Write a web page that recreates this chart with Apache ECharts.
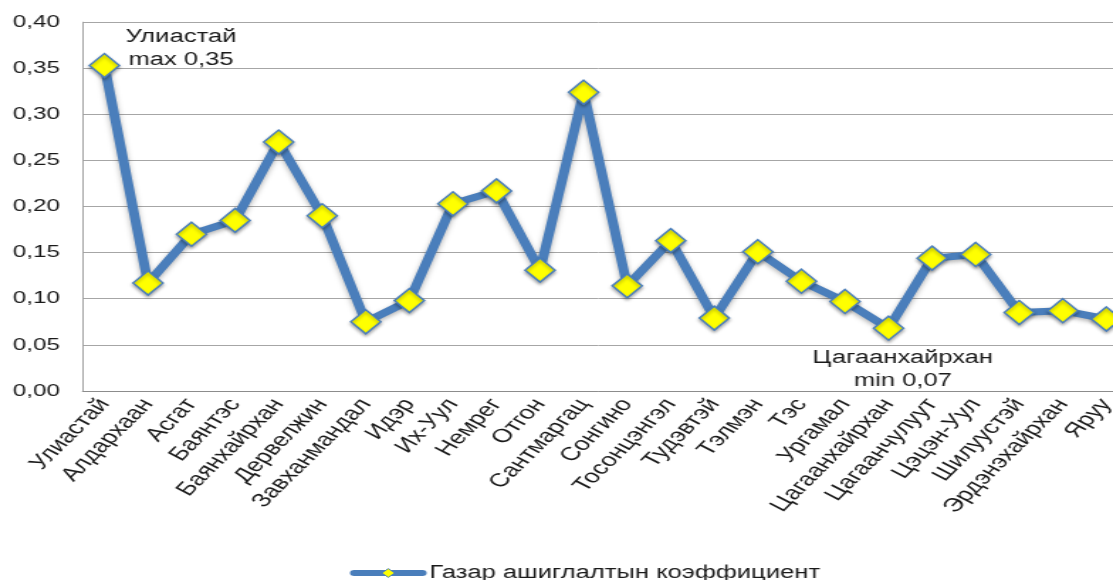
<!DOCTYPE html>
<html>
<head>
<meta charset="utf-8">
<script src="https://cdn.jsdelivr.net/npm/echarts@6/dist/echarts.min.js"></script>
<style>
  html, body { margin: 0; padding: 0; overflow: hidden; background: #fff; }
  #wrap { width: 1113px; height: 580px; overflow: hidden; position: relative; }
  #chart { width: 784px; height: 580px; transform: scaleX(1.4196); transform-origin: 0 0; }
</style>
</head>
<body>
<div id="wrap"><div id="chart"></div></div>
<script>
const categories = ['Улиастай','Алдархаан','Асгат','Баянтэс','Баянхайрхан','Дөрвөлжин','Завханмандал','Идэр','Их-Уул','Нөмрөг','Отгон','Сантмаргац','Сонгино','Тосонцэнгэл','Түдэвтэй','Тэлмэн','Тэс','Ургамал','Цагаанхайрхан','Цагаанчулуут','Цэцэн-Уул','Шилүүстэй','Эрдэнэхайрхан','Яруу'];
const displayLabels = ['Улиастай','Алдархаан','Асгат','Баянтэс','Баянхайрхан','Дервелжин','Завханмандал','Идэр','Их-Уул','Немрег','Отгон','Сантмаргац','Сонгино','Тосонцэнгэл','Тудэвтэй','Тэлмэн','Тэс','Ургамал','Цагаанхайрхан','Цагаанчулуут','Цэцэн-Уул','Шилуустэй','Эрдэнэхайрхан','Яруу'];
const values = [0.353,0.117,0.170,0.185,0.270,0.190,0.075,0.098,0.203,0.217,0.131,0.324,0.114,0.163,0.079,0.151,0.119,0.097,0.068,0.144,0.148,0.085,0.087,0.078];
const seriesName = 'Газар ашиглалтын коэффициент';
const yTicks = { min: 0, max: 0.4, interval: 0.05 };
const annotations = [
  { index: 0, text: 'Улиастай\nmax 0,35', offset: [54, -17] },
  { index: 18, text: 'Цагаанхайрхан\nmin 0,07', offset: [10, 41] }
];

const font = '"Liberation Sans", Arial, sans-serif';
const blue = '#4a7ebb';

const seriesData = values.map((v, i) => {
  const a = annotations.find(x => x.index === i);
  if (!a) return v;
  return {
    value: v,
    label: {
      show: true, position: 'inside', offset: a.offset,
      formatter: a.text, fontFamily: font, fontSize: 18, color: '#1a1a1a',
      lineHeight: 23, align: 'center', verticalAlign: 'middle'
    }
  };
});

const chart = echarts.init(document.getElementById('chart'), null, { renderer: 'canvas' });
chart.setOption({
  animation: false,
  backgroundColor: '#fff',
  grid: { left: 58.2, right: -10.7, top: 22.2, bottom: 189.1, containLabel: false, outerBoundsMode: 'none' },
  xAxis: {
    type: 'category',
    data: categories,
    boundaryGap: true,
    axisLine: { show: true, lineStyle: { color: '#8c8c8c', width: 1 } },
    axisTick: { show: false },
    axisLabel: {
      interval: 0, rotate: 54, margin: 10,
      fontFamily: font, fontSize: 19, color: '#1a1a1a',
      formatter: (v, i) => displayLabels[i]
    },
    splitLine: { show: false }
  },
  yAxis: {
    type: 'value',
    min: yTicks.min, max: yTicks.max, interval: yTicks.interval,
    axisLine: { show: true, lineStyle: { color: '#a0a0a0', width: 1 } },
    axisTick: { show: false },
    axisLabel: {
      margin: 16, fontFamily: font, fontSize: 17, color: '#1a1a1a',
      formatter: v => v.toFixed(2).replace('.', ',')
    },
    splitLine: { show: true, lineStyle: { color: '#a6a6a6', width: 1 } }
  },
  legend: {
    show: true,
    left: 241.5, top: 559,
    itemWidth: 48, itemHeight: 11, itemGap: 3,
    lineStyle: { width: 6, cap: 'round', shadowBlur: 0 },
    itemStyle: { borderWidth: 1 },
    textStyle: { fontFamily: font, fontSize: 18, color: '#1a1a1a' },
    data: [seriesName]
  },
  series: [{
    name: seriesName,
    type: 'line',
    data: seriesData,
    symbol: 'diamond',
    symbolSize: [21, 24],
    lineStyle: { color: blue, width: 7, cap: 'round', shadowColor: 'rgba(0,0,0,0.3)', shadowBlur: 4, shadowOffsetY: 2 },
    itemStyle: { color: '#ffff00', borderColor: blue, borderWidth: 1.5, shadowColor: 'rgba(0,0,0,0.3)', shadowBlur: 3, shadowOffsetY: 2 },
    emphasis: { disabled: true },
    z: 3
  }]
});
</script>
</body>
</html>
